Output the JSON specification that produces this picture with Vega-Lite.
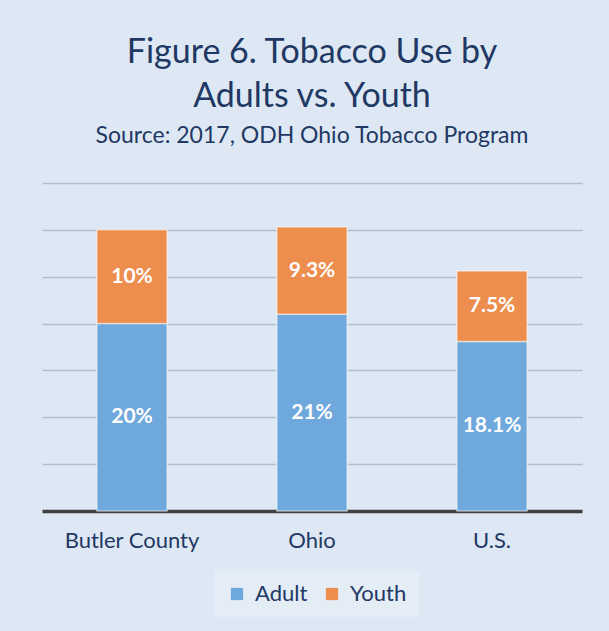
{
  "$schema": "https://vega.github.io/schema/vega-lite/v6.json",
  "width": 540,
  "height": 328,
  "padding": {"left": 42, "top": 36, "right": 27, "bottom": 14},
  "background": "#dde8f4",
  "title": {
    "text": ["Figure 6. Tobacco Use by", "Adults vs. Youth"],
    "subtitle": "Source: 2017, ODH Ohio Tobacco Program",
    "anchor": "middle",
    "font": "Lato",
    "fontSize": 34,
    "fontWeight": "normal",
    "lineHeight": 44,
    "color": "#1f3864",
    "subtitleFont": "Lato",
    "subtitleFontSize": 23,
    "subtitleColor": "#1f3864",
    "subtitlePadding": 11,
    "offset": 35
  },
  "data": {
    "values": [
      {"region": "Butler County", "group": "Adult", "order": 1, "value": 20, "label": "20%"},
      {"region": "Butler County", "group": "Youth", "order": 2, "value": 10, "label": "10%"},
      {"region": "Ohio", "group": "Adult", "order": 1, "value": 21, "label": "21%"},
      {"region": "Ohio", "group": "Youth", "order": 2, "value": 9.3, "label": "9.3%"},
      {"region": "U.S.", "group": "Adult", "order": 1, "value": 18.1, "label": "18.1%"},
      {"region": "U.S.", "group": "Youth", "order": 2, "value": 7.5, "label": "7.5%"}
    ]
  },
  "transform": [
    {"stack": "value", "groupby": ["region"], "sort": [{"field": "order"}], "as": ["v0", "v1"]}
  ],
  "encoding": {
    "x": {
      "field": "region",
      "type": "nominal",
      "sort": ["Butler County", "Ohio", "U.S."],
      "scale": {"paddingInner": 0.61, "paddingOuter": 0.305},
      "axis": {
        "title": null,
        "labelAngle": 0,
        "labelFont": "Lato",
        "labelFontSize": 22,
        "labelColor": "#1f3864",
        "labelPadding": 19,
        "ticks": false,
        "domainColor": "#404040",
        "domainWidth": 3.5,
        "grid": false
      }
    }
  },
  "layer": [
    {
      "mark": {"type": "bar", "stroke": "#ffffff", "strokeOpacity": 0.5, "strokeWidth": 1.5},
      "encoding": {
        "y": {
          "field": "v0",
          "type": "quantitative",
          "scale": {"domain": [0, 35], "nice": false},
          "axis": {
            "title": null,
            "labels": false,
            "ticks": false,
            "domain": false,
            "values": [5, 10, 15, 20, 25, 30, 35],
            "gridColor": "#b4bec9",
            "gridWidth": 1.5
          }
        },
        "y2": {"field": "v1"},
        "color": {
          "field": "group",
          "type": "nominal",
          "scale": {"domain": ["Adult", "Youth"], "range": ["#6fa8dc", "#ed8d4e"]},
          "legend": {
            "title": null,
            "orient": "none",
            "legendX": 172,
            "legendY": 388,
            "direction": "horizontal",
            "fillColor": "#e4ecf6",
            "padding": 12,
            "symbolType": "square",
            "symbolSize": 150,
            "symbolStrokeWidth": 0,
            "symbolOpacity": 1,
            "labelFont": "Lato",
            "labelFontSize": 22,
            "labelOffset": 7,
            "labelColor": "#1f3864",
            "columnPadding": 13,
            "encode": {
              "labels": {"update": {"fill": {"signal": "datum.label === 'Adult' ? '#404040' : '#1f3864'"}}}
            }
          }
        }
      }
    },
    {
      "transform": [
        {"fold": ["v0", "v1"], "as": ["edge", "pos"]}
      ],
      "mark": {"type": "text", "color": "#ffffff", "font": "Lato", "fontWeight": "bold", "fontSize": 21, "baseline": "middle"},
      "encoding": {
        "y": {"field": "pos", "aggregate": "mean", "type": "quantitative"},
        "text": {"field": "label"},
        "detail": {"field": "group"}
      }
    }
  ],
  "config": {"view": {"stroke": null}}
}
